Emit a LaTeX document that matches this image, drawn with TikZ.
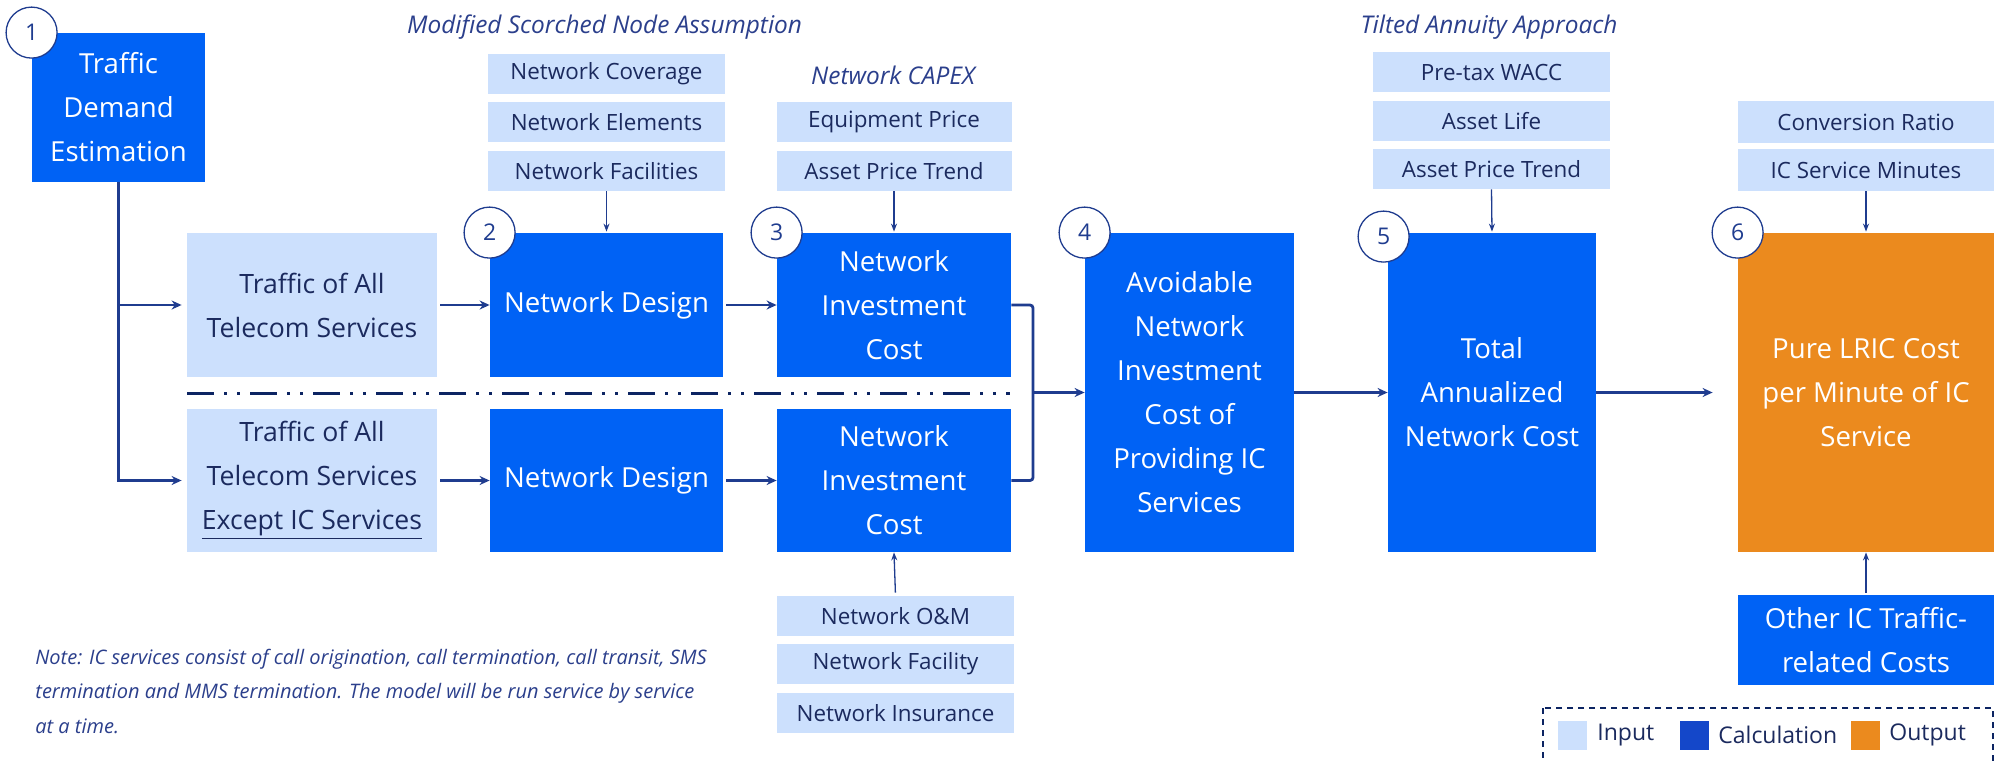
\documentclass[tikz,border=0pt]{standalone}
\usepackage{fontspec}
\setmainfont{Open Sans}
\usetikzlibrary{arrows.meta}
\definecolor{cblue}{HTML}{0062F5}
\definecolor{clight}{HTML}{CCE0FD}
\definecolor{corange}{HTML}{EB8A1E}
\definecolor{navy}{HTML}{1B2A5E}
\definecolor{lineblue}{HTML}{1F3C8F}
\definecolor{dashcol}{HTML}{0C2462}
\definecolor{legcalc}{HTML}{1447C9}
\definecolor{headcol}{HTML}{2B3F8C}
\tikzset{
  wh/.style 2 args={minimum width=#1*0.5pt, minimum height=#2*0.5pt},
  calcbox/.style={fill=cblue, text=white, font=\fontsize{13.8}{22}\selectfont, align=center, inner sep=0pt},
  outbox/.style={fill=corange, text=white, font=\fontsize{13.8}{22}\selectfont, align=center, inner sep=0pt},
  bigin/.style={fill=clight, text=navy, font=\fontsize{13.3}{22}\selectfont, align=center, inner sep=0pt},
  inbox/.style={fill=clight, text=navy, font=\fontsize{11.2}{13}\selectfont, align=center, inner sep=0pt},
  headtxt/.style={text=headcol, font=\fontsize{12.2}{14}\selectfont\itshape, inner sep=0pt},
  numcirc/.style={circle, draw=lineblue, line width=0.65pt, fill=white, minimum size=25.5pt, inner sep=0pt, text=lineblue, font=\fontsize{11.5}{13}\selectfont},
  mainarr/.style={draw=lineblue, line width=1.4pt, -{Stealth[length=5pt,width=4.5pt]}},
  mainline/.style={draw=lineblue, line width=1.4pt, rounded corners=1.5pt},
  thinarr/.style={draw=lineblue, line width=0.65pt, -{Stealth[length=4pt,width=3pt]}},
  dashline/.style={draw=dashcol, line width=1.5pt, dash pattern=on 13.5pt off 5pt on 1.5pt off 5pt on 1.5pt off 5pt},
  legframe/.style={draw=dashcol, line width=0.7pt, dash pattern=on 3pt off 2.5pt},
  swatch/.style={minimum size=14.5pt, inner sep=0pt},
  legtxt/.style={text=navy, font=\fontsize{11.5}{14}\selectfont, anchor=west, inner sep=0pt},
  notetxt/.style={text=headcol, font=\fontsize{10}{17.25}\selectfont\itshape, align=left, anchor=west, inner sep=0pt}
}
\begin{document}
\begin{tikzpicture}[x=0.5pt,y=-0.5pt]
\useasboundingbox (0,0) rectangle (2007,760);
\clip (0,0) rectangle (2007,760);
\fill[white] (0,0) rectangle (2007,760);

% headings
\node[headtxt] (h1) at (604.5,27) {Modified Scorched Node Assumption};
\node[headtxt] (h2) at (893,75) {Network CAPEX};
\node[headtxt] (h3) at (1489,27) {Tilted Annuity Approach};

% main boxes
\node[calcbox, wh={173}{149}] (b1) at (118.5,107.5) {Traffic\\Demand\\Estimation};
\node[bigin, wh={250}{144}] (t1) at (312,305) {Traffic of All\\Telecom Services};
\node[bigin, wh={250}{143}] (t2) at (312,480.5) {Traffic of All\\Telecom Services\\\underline{Except IC Services}};
\node[calcbox, wh={233}{144}] (d1) at (606.5,305) {Network Design};
\node[calcbox, wh={233}{143}] (d2) at (606.5,480.5) {Network Design};
\node[calcbox, wh={234}{144}] (c1) at (894,305) {Network\\Investment\\Cost};
\node[calcbox, wh={234}{143}] (c2) at (894,480.5) {Network\\Investment\\Cost};
\node[calcbox, wh={209}{319}] (b4) at (1189.5,392.5) {Avoidable\\Network\\Investment\\Cost of\\Providing IC\\Services};
\node[calcbox, wh={208}{319}] (b5) at (1492,392.5) {Total\\Annualized\\Network Cost};
\node[outbox, wh={256}{319}] (b6) at (1866,392.5) {Pure LRIC Cost\\per Minute of IC\\Service};
\node[calcbox, wh={256}{90}] (oth) at (1866,640) {Other IC Traffic-\\related Costs};

% inputs
\node[inbox, wh={237}{40}] (nc) at (606.5,74) {Network Coverage};
\node[inbox, wh={237}{40}] (ne) at (606.5,122) {Network Elements};
\node[inbox, wh={237}{40}] (nf) at (606.5,171) {Network Facilities};
\node[inbox, wh={235}{40}] (ep) at (894,122) {Equipment Price};
\node[inbox, wh={235}{40}] (apa) at (894,171) {Asset Price Trend};
\node[inbox, wh={237}{40}] (wacc) at (1491.5,72) {Pre-tax WACC};
\node[inbox, wh={237}{40}] (al) at (1491.5,121) {Asset Life};
\node[inbox, wh={237}{40}] (apb) at (1491.5,169) {Asset Price Trend};
\node[inbox, wh={256}{42}] (cr) at (1866,122) {Conversion Ratio};
\node[inbox, wh={256}{42}] (icm) at (1866,170) {IC Service Minutes};
\node[inbox, wh={237}{40}] (om) at (895.5,616) {Network O\&M};
\node[inbox, wh={237}{40}] (nfac) at (895.5,664) {Network Facility};
\node[inbox, wh={237}{40}] (ni) at (895.5,713) {Network Insurance};

% separator
\coordinate (dl1) at (187,393);
\coordinate (dl2) at (1010,393);
\draw[dashline] (dl1) -- (dl2);

% connectors
\coordinate (j1) at (b1.south |- t1.west);
\coordinate (j2) at (b1.south |- t2.west);
\draw[mainarr, shorten >=2.5pt] (b1.south) -- (j2) -- (t2.west);
\draw[mainarr, shorten >=2.5pt] (j1) -- (t1.west);
\draw[mainarr, shorten <=1.5pt] (t1) -- (d1);
\draw[mainarr, shorten <=1.5pt] (t2) -- (d2);
\draw[mainarr, shorten <=1.5pt] (d1) -- (c1);
\draw[mainarr, shorten <=1.5pt] (d2) -- (c2);
\coordinate (bk) at (1033,392.5);
\draw[mainline] (c1.east) -- (c1.east -| bk) -- (c2.east -| bk) -- (c2.east);
\draw[mainarr] (bk) -- (b4.west);
\draw[mainarr] (b4) -- (b5);
\draw[mainarr, shorten >=12.5pt] (b5) -- (b6);

\draw[thinarr, shorten >=0.5pt] (nf.south) -- (d1.north);
\draw[thinarr, shorten >=0.5pt] (apa.south) -- (c1.north);
\draw[thinarr, shorten >=0.5pt] (apb.south) -- (b5.north);
\draw[thinarr, shorten >=0.5pt] (icm.south) -- (b6.north);
\draw[thinarr, shorten <=1.5pt] (om.north) -- (c2.south);
\draw[thinarr, shorten <=1pt] (oth.north) -- (b6.south);

% step numbers
\node[numcirc] (n1) at (b1.north west) {1};
\node[numcirc] (n2) at (d1.north west) {2};
\node[numcirc] (n3) at (c1.north west) {3};
\node[numcirc] (n4) at (b4.north west) {4};
\node[numcirc] (n5) at ([xshift=-2pt,yshift=-2pt]b5.north west) {5};
\node[numcirc] (n6) at (b6.north west) {6};

% note
\node[notetxt] (note) at (35,691) {Note: IC services consist of call origination, call termination, call transit, SMS\\termination and MMS termination. The model will be run service by service\\at a time.};

% legend
\draw[legframe] (1543,708) rectangle (1993,790);
\node[swatch, fill=clight] (s1) at (1572.5,735) {};
\node[legtxt] (l1) at (1597,735) {Input};
\node[swatch, fill=legcalc] (s2) at (1694.5,735) {};
\node[legtxt] (l2) at (1718,735) {Calculation};
\node[swatch, fill=corange] (s3) at (1865.5,735) {};
\node[legtxt] (l3) at (1889,735) {Output};
\end{tikzpicture}
\end{document}
